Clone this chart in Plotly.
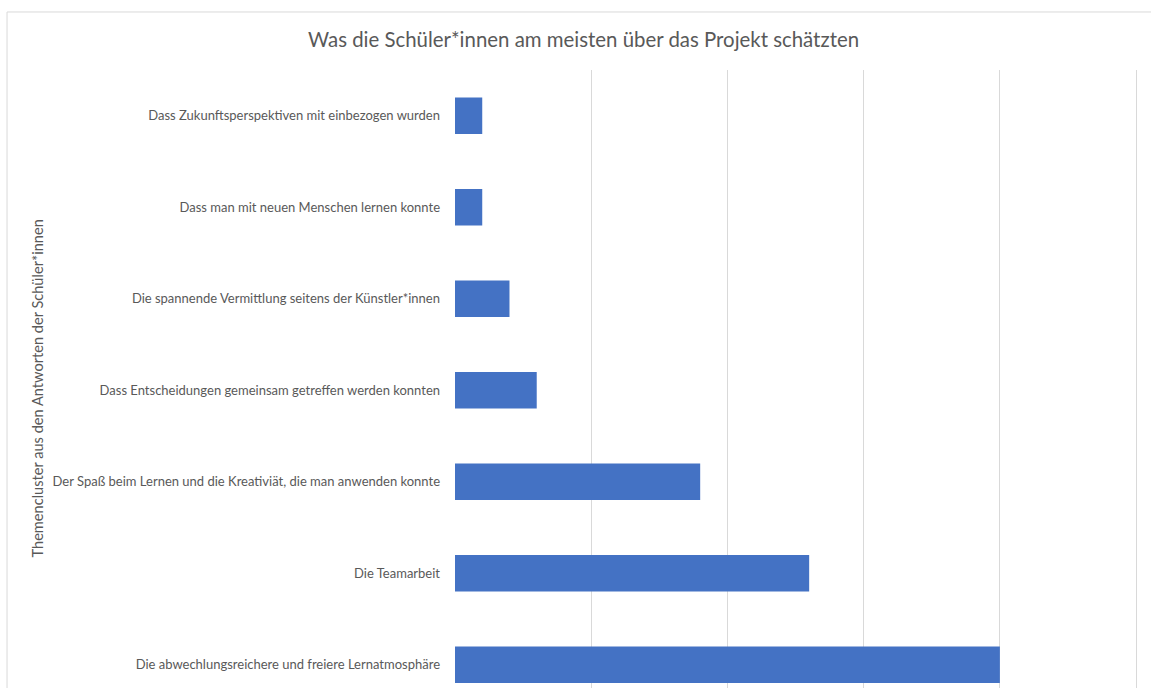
import plotly.graph_objects as go

# Themencluster (von oben nach unten) und Anzahl der Nennungen
categories = [
    "Dass Zukunftsperspektiven mit einbezogen wurden",
    "Dass man mit neuen Menschen lernen konnte",
    "Die spannende Vermittlung seitens der Künstler*innen",
    "Dass Entscheidungen gemeinsam getreffen werden konnten",
    "Der Spaß beim Lernen und die Kreativiät, die man anwenden konnte",
    "Die Teamarbeit",
    "Die abwechlungsreichere und freiere Lernatmosphäre",
]
counts = [1, 1, 2, 3, 9, 13, 20]

title_text = "Was die Schüler*innen am meisten über das Projekt schätzten"
y_title = "Themencluster aus den Antworten der Schüler*innen"

FONT = "Lato"
GREY = "#595959"

fig = go.Figure()
fig.add_bar(
    x=counts,
    y=categories,
    orientation="h",
    width=0.4,
    marker=dict(color="#4472C4", line=dict(width=0)),
)

fig.update_layout(
    width=1151,
    height=688,
    margin=dict(l=455, r=10, t=70, b=0),
    paper_bgcolor="white",
    plot_bgcolor="white",
    showlegend=False,
    font=dict(family=FONT, size=13, color=GREY),
    title=dict(
        text=title_text,
        x=0.507, xref="container", xanchor="center",
        y=0.942, yref="container", yanchor="middle",
        font=dict(family=FONT, size=20.4, color=GREY),
    ),
)

# Bereich etwas über 25 hinaus, damit die letzte Gitterlinie sichtbar bleibt
fig.update_xaxes(
    range=[0, 25.18], dtick=5, showgrid=True, gridcolor="#D9D9D9", gridwidth=1,
    zeroline=False, showline=False, showticklabels=False, fixedrange=True,
)
fig.update_yaxes(
    categoryorder="array", categoryarray=categories,
    range=[6.254, -0.5], showgrid=False, zeroline=False, showline=False,
    ticks="", ticklabelstandoff=14, tickfont=dict(family=FONT, size=13, color=GREY),
    fixedrange=True,
)

# Achsentitel (vertikal mittig über dem gesamten Diagrammbereich)
fig.add_annotation(
    text=y_title, textangle=-90,
    xref="paper", yref="paper", x=-0.609, y=0.485,
    xanchor="center", yanchor="middle", showarrow=False,
    font=dict(family=FONT, size=14.6, color=GREY),
)

# Rahmen des Diagrammbereichs
fig.add_shape(
    type="rect", xref="paper", yref="paper",
    x0=-0.653, x1=1.2, y0=-0.2, y1=1.0939,
    line=dict(color="#D9D9D9", width=1), fillcolor="rgba(0,0,0,0)", layer="below",
)

# Seitenrand des Browsers entfernen, damit das Diagramm bündig sitzt
fig.write_html(
    "out.html",
    config={"displayModeBar": False},
    post_script="document.body.style.margin='0';",
)
